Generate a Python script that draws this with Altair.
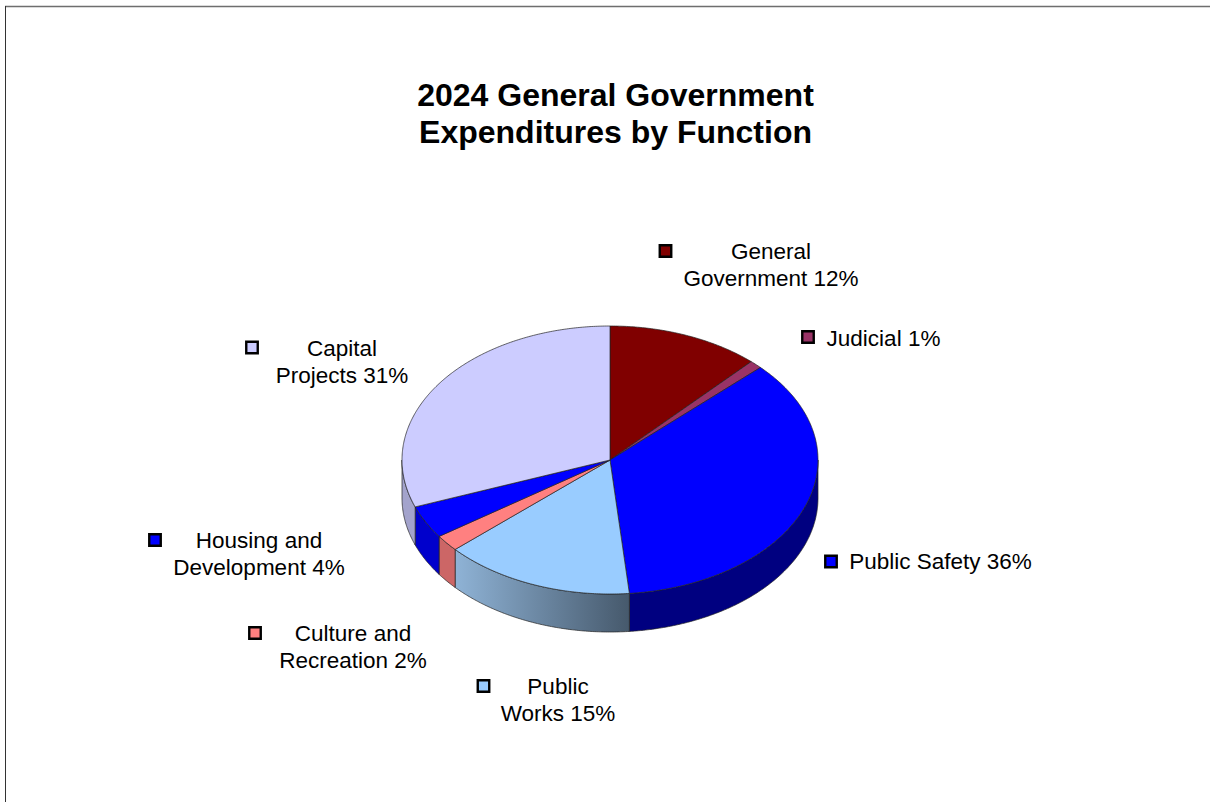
import math
import altair as alt
import pandas as pd

# Function names (with their line breaks), budget shares in percent, and colours
names = ["General\nGovernment", "Judicial", "Public Safety", "Public\nWorks",
         "Culture and\nRecreation", "Housing and\nDevelopment", "Capital\nProjects"]
shares = [12, 1, 36, 15, 2, 4, 31]
top_colors = ["#800000", "#993366", "#0000FF", "#99CCFF", "#FF8080", "#0000FF", "#CCCCFF"]
title_lines = ["2024 General Government", "Expenditures by Function"]

# Page layout, in pixels
WIDTH, HEIGHT = 1210, 802
CX, CY = 610, 460
RX, RY, DEPTH = 208, 134, 38
TILT = RY / RX
DROP = DEPTH / RX

# Key square centre and label anchor for each function
key_xy = [(665.5, 251), (808, 337), (831, 561.5), (483.5, 686), (255, 633), (155, 540), (252, 347.5)]
label_xy = [(771, 252), (883.5, 339), (940.5, 562), (558, 687), (353, 634), (259, 541), (342, 349)]

# Pie coordinates use the radius as their unit, so both axes share one pixel scale
x_scale = alt.Scale(domain=[-CX / RX, (WIDTH - CX) / RX], range=[0, WIDTH])
y_scale = alt.Scale(domain=[-(HEIGHT - CY) / RX, CY / RX], range=[HEIGHT, 0])
x_enc = alt.X("x:Q", scale=x_scale, axis=None)
y_enc = alt.Y("y:Q", scale=y_scale, axis=None)

total = sum(shares)
edges = [0.0]
for s in shares:
    edges.append(edges[-1] + s / total * 360)


def rim_angles(a, b):
    steps = max(2, int((b - a) * 2))
    return [a + (b - a) * i / steps for i in range(steps + 1)]


def gradient(left, right):
    return alt.Gradient(
        gradient="linear", x1=0, y1=0, x2=1, y2=0,
        stops=[alt.GradientStop(color=left, offset=0), alt.GradientStop(color=right, offset=1)],
    )


layers = []

# Side walls of the slices that face the viewer (clockwise angles from 90 to 270)
wall_fills = {
    2: "#000080",
    3: gradient("#8FB3D6", "#46596C"),
    4: "#CC6666",
    5: "#0000CC",
    6: "#A3A3CC",
}
for i, fill in wall_fills.items():
    a, b = max(edges[i], 90), min(edges[i + 1], 270)
    rows = []
    for t in rim_angles(a, b):
        r = math.radians(t)
        y = math.cos(r) * TILT
        rows.append({"x": math.sin(r), "y": y, "y2": y - DROP})
    layers.append(
        alt.Chart(pd.DataFrame(rows))
        .mark_area(fill=fill, stroke="#222222", strokeWidth=0.7)
        .encode(x=x_enc, y=y_enc, y2="y2:Q")
    )

# Top face of each slice, outlined from the centre round its arc
for i, color in enumerate(top_colors):
    rows = [{"x": 0.0, "y": 0.0}]
    for t in rim_angles(edges[i], edges[i + 1]):
        r = math.radians(t)
        rows.append({"x": math.sin(r), "y": math.cos(r) * TILT})
    rows.append({"x": 0.0, "y": 0.0})
    frame = pd.DataFrame(rows).reset_index(names="step")
    layers.append(
        alt.Chart(frame)
        .mark_line(fill=color, stroke="#222222", strokeWidth=0.7)
        .encode(x=x_enc, y=y_enc, order="step:Q")
    )

# Key squares and category labels
for i, name in enumerate(names):
    kx, ky = key_xy[i]
    lx, ly = label_xy[i]
    layers.append(
        alt.Chart(pd.DataFrame({"k": [i]}))
        .mark_square(size=132, fill=top_colors[i], stroke="#000000", strokeWidth=2.4, opacity=1)
        .encode(x=alt.value(kx), y=alt.value(ky))
    )
    layers.append(
        alt.Chart(pd.DataFrame({"label": [f"{name} {shares[i]}%"]}))
        .mark_text(font="Liberation Sans", fontSize=22.5, color="#000000", lineBreak="\n",
                   lineHeight=27, align="center", baseline="middle")
        .encode(x=alt.value(lx), y=alt.value(ly), text="label:N")
    )

# Two-line heading
layers.append(
    alt.Chart(pd.DataFrame({"label": ["\n".join(title_lines)]}))
    .mark_text(font="Liberation Sans", fontSize=32, fontWeight="bold", color="#000000",
               lineBreak="\n", lineHeight=37, align="center", baseline="top")
    .encode(x=alt.value(615.5), y=alt.value(81), text="label:N")
)

# Frame lines along the top and left of the page
layers.append(
    alt.Chart(pd.DataFrame({"k": [0]})).mark_rule(color="#6E6E6E", strokeWidth=1.5)
    .encode(x=alt.value(5), x2=alt.value(WIDTH), y=alt.value(6.5))
)
layers.append(
    alt.Chart(pd.DataFrame({"k": [0]})).mark_rule(color="#333333", strokeWidth=1)
    .encode(x=alt.value(5.5), y=alt.value(6), y2=alt.value(HEIGHT))
)

chart = (
    alt.layer(*layers)
    .properties(width=WIDTH, height=HEIGHT, padding=0, background="#FFFFFF",
                autosize=alt.AutoSizeParams(type="none"))
    .configure_view(stroke=None)
)

chart.save("out.html", embed_options={"renderer": "svg", "actions": False})
